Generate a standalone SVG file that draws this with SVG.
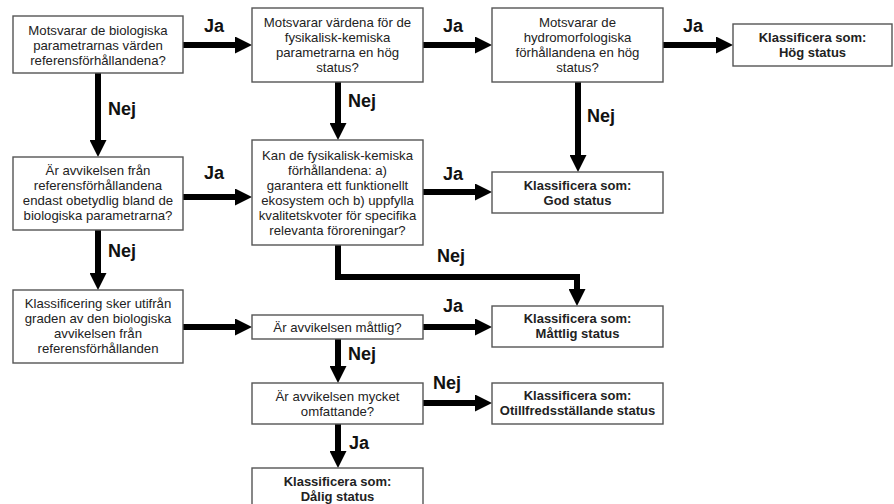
<svg xmlns="http://www.w3.org/2000/svg" width="894" height="504" viewBox="0 0 894 504">
<style>
.box{fill:#fff;stroke:#555;stroke-width:1.4}
.t{font-family:"Liberation Sans",Arial,sans-serif;font-size:13.2px;fill:#222;text-anchor:middle}
.b{font-weight:bold;font-size:13px}
.lbl{font-family:"Liberation Sans",Arial,sans-serif;font-size:18px;font-weight:bold;fill:#111}
.c{fill:none;stroke:#000;stroke-width:6;marker-end:url(#ah)}
</style>
<defs>
<marker id="ah" viewBox="0 0 17 17" refX="0" refY="8.5" markerWidth="17" markerHeight="17" markerUnits="userSpaceOnUse" orient="auto">
<path d="M0,0 L17,8.5 L0,17 z" fill="#000"/>
</marker>
</defs>
<rect width="894" height="504" fill="#fff"/>
<g id="connectors">
<path class="c" d="M183,45 H235"/>
<path class="c" d="M98,73 V140"/>
<path class="c" d="M423,45 H475"/>
<path class="c" d="M338,82 V123"/>
<path class="c" d="M663,45 H716"/>
<path class="c" d="M578,82 V155"/>
<path class="c" d="M183,197 H235"/>
<path class="c" d="M423,192 H475"/>
<path class="c" d="M98,230 V273"/>
<path class="c" d="M338,245 V277 H577 V289"/>
<path class="c" d="M183,327 H235"/>
<path class="c" d="M423,327 H475"/>
<path class="c" d="M338,339 V366"/>
<path class="c" d="M423,403 H475"/>
<path class="c" d="M338,424 V451"/>
</g>
<g id="labels">
<text class="lbl" x="204" y="32">Ja</text>
<text class="lbl" x="443" y="32">Ja</text>
<text class="lbl" x="683" y="32">Ja</text>
<text class="lbl" x="108" y="115">Nej</text>
<text class="lbl" x="348" y="107">Nej</text>
<text class="lbl" x="587" y="122">Nej</text>
<text class="lbl" x="204" y="179">Ja</text>
<text class="lbl" x="443" y="180">Ja</text>
<text class="lbl" x="108" y="257">Nej</text>
<text class="lbl" x="437" y="262">Nej</text>
<text class="lbl" x="443" y="312">Ja</text>
<text class="lbl" x="348" y="360">Nej</text>
<text class="lbl" x="433" y="389">Nej</text>
<text class="lbl" x="349" y="449">Ja</text>
</g>
<g id="n1"><rect class="box" x="13" y="16" width="170" height="57"/>
<text class="t" x="98" y="34.5">Motsvarar de biologiska</text>
<text class="t" x="98" y="49.5">parametrarnas värden</text>
<text class="t" x="98" y="64.5">referensförhållandena?</text></g>
<g id="n2"><rect class="box" x="252" y="8" width="171" height="74"/>
<text class="t" x="337.5" y="27">Motsvarar värdena för de</text>
<text class="t" x="337.5" y="42">fysikalisk-kemiska</text>
<text class="t" x="337.5" y="57">parametrarna en hög</text>
<text class="t" x="337.5" y="72">status?</text></g>
<g id="n3"><rect class="box" x="492" y="8" width="171" height="74"/>
<text class="t" x="577.5" y="27">Motsvarar de</text>
<text class="t" x="577.5" y="42">hydromorfologiska</text>
<text class="t" x="577.5" y="57">förhållandena en hög</text>
<text class="t" x="577.5" y="72">status?</text></g>
<g id="n4"><rect class="box" x="733" y="24" width="159" height="42"/>
<text class="t b" x="812.5" y="42">Klassificera som:</text>
<text class="t b" x="812.5" y="57">Hög status</text></g>
<g id="n5"><rect class="box" x="492" y="172" width="171" height="41"/>
<text class="t b" x="577.5" y="189.5">Klassificera som:</text>
<text class="t b" x="577.5" y="204.5">God status</text></g>
<g id="n6"><rect class="box" x="13" y="157" width="170" height="73"/>
<text class="t" x="98" y="175">Är avvikelsen från</text>
<text class="t" x="98" y="190">referensförhållandena</text>
<text class="t" x="98" y="205">endast obetydlig bland de</text>
<text class="t" x="98" y="220">biologiska parametrarna?</text></g>
<g id="n7"><rect class="box" x="252" y="140" width="171" height="105"/>
<text class="t" x="337.5" y="159.5">Kan de fysikalisk-kemiska</text>
<text class="t" x="337.5" y="174.5">förhållandena: a)</text>
<text class="t" x="337.5" y="189.5">garantera ett funktionellt</text>
<text class="t" x="337.5" y="204.5">ekosystem och b) uppfylla</text>
<text class="t" x="337.5" y="219.5">kvalitetskvoter för specifika</text>
<text class="t" x="337.5" y="234.5">relevanta föroreningar?</text></g>
<g id="n8"><rect class="box" x="13" y="290" width="170" height="73"/>
<text class="t" x="98" y="308">Klassificering sker utifrån</text>
<text class="t" x="98" y="323">graden av den biologiska</text>
<text class="t" x="98" y="338">avvikelsen från</text>
<text class="t" x="98" y="353">referensförhållanden</text></g>
<g id="n9"><rect class="box" x="252" y="315" width="171" height="24"/>
<text class="t" x="337.5" y="331.5">Är avvikelsen måttlig?</text></g>
<g id="n10"><rect class="box" x="252" y="383" width="171" height="41"/>
<text class="t" x="337.5" y="400.5">Är avvikelsen mycket</text>
<text class="t" x="337.5" y="415.5">omfattande?</text></g>
<g id="n11"><rect class="box" x="252" y="468" width="171" height="42"/>
<text class="t b" x="337.5" y="486">Klassificera som:</text>
<text class="t b" x="337.5" y="501">Dålig status</text></g>
<g id="n12"><rect class="box" x="492" y="306" width="171" height="41"/>
<text class="t b" x="577.5" y="323">Klassificera som:</text>
<text class="t b" x="577.5" y="338">Måttlig status</text></g>
<g id="n13"><rect class="box" x="492" y="383" width="171" height="41"/>
<text class="t b" x="577.5" y="400">Klassificera som:</text>
<text class="t b" x="577.5" y="415">Otillfredsställande status</text></g>
</svg>
